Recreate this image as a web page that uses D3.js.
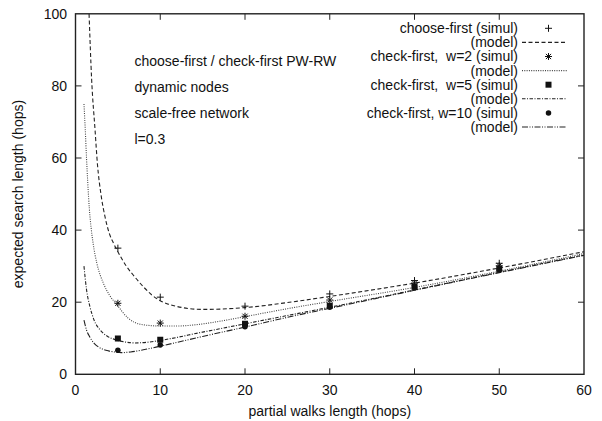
<!DOCTYPE html>
<html>
<head>
<meta charset="utf-8">
<script src="https://cdn.jsdelivr.net/npm/d3@7"></script>
<style>
  body { margin: 0; background: #fff; }
  text { font-family: "Liberation Sans", Arial, sans-serif; fill: #111; }
</style>
</head>
<body>
<div id="chart"></div>
<script>
// simulation points
const simX = [5, 10, 20, 30, 40, 50];
const simChoose = [35, 21.4, 18.9, 22.3, 26, 30.8];
const simW2 = [19.7, 14.2, 16.1, 20.6, 25.3, 30.1];
const simW5 = [9.9, 9.6, 14, 19, 24.3, 29.3];
const simW10 = [6.7, 8.1, 13.2, 18.6, 24, 29];

// model curves
const modelChooseX = [1.6, 1.9, 2.3, 2.6, 3.0, 3.5, 4.0, 4.5, 5, 6, 7, 8, 9, 10, 12, 15, 20, 25, 30, 40, 50, 60];
const modelChooseY = [100, 82, 68, 58, 50, 43.5, 39, 36.3, 34, 30, 27, 24.3, 22, 20.4, 18.8, 18.0, 18.5, 19.9, 21.6, 25.3, 29.5, 34.0];
const modelW2X = [1.0, 1.15, 1.3, 1.45, 1.63, 1.85, 2.1, 2.5, 3.3, 4, 4.85, 6.2, 7.8, 10, 12, 14, 17, 20, 25, 30, 40, 50, 60];
const modelW2Y = [75, 68, 60, 53, 46, 40.5, 36, 31, 25.2, 22, 19.4, 15.6, 13.8, 13.4, 13.4, 13.7, 14.7, 16, 18.2, 20.2, 24.1, 28.6, 33.5];
const modelW5X = [1.0, 1.3, 1.7, 2.2, 2.9, 3.8, 4.85, 6, 7, 8.5, 10, 15, 20, 25, 30, 40, 50, 60];
const modelW5Y = [30, 23.5, 18.8, 15, 12.3, 10.5, 9.5, 8.9, 8.7, 8.9, 9.4, 11.7, 14, 16.3, 18.6, 23.4, 28.3, 33.1];
const modelW10X = [1.0, 1.3, 1.7, 2.2, 2.7, 3.3, 3.9, 4.6, 5.4, 6.5, 8, 10, 15, 20, 25, 30, 40, 50, 60];
const modelW10Y = [15, 12.3, 10.3, 8.6, 7.6, 6.9, 6.5, 6.2, 6.0, 6.2, 6.8, 7.8, 10.5, 13.1, 15.8, 18.3, 23.3, 28.2, 33.0];

const xTicks = [0, 10, 20, 30, 40, 50, 60];
const yTicks = [0, 20, 40, 60, 80, 100];

const infoLines = ["choose-first / check-first PW-RW", "dynamic nodes", "scale-free network", "l=0.3"];
const legendLabels = ["choose-first (simul)", "(model)", "check-first,  w=2 (simul)", "(model)",
                      "check-first,  w=5 (simul)", "(model)", "check-first, w=10 (simul)", "(model)"];

const width = 602, height = 421;
const plotL = 75.5, plotR = 584, plotT = 13.8, plotB = 374.3;

const svg = d3.select("#chart").append("svg")
    .attr("width", width)
    .attr("height", height);

const x = d3.scaleLinear().domain([0, 60]).range([plotL, plotR]);
const y = d3.scaleLinear().domain([0, 100]).range([plotB, plotT]);

svg.append("clipPath").attr("id", "clip")
  .append("rect")
    .attr("x", plotL).attr("y", plotT)
    .attr("width", plotR - plotL).attr("height", plotB - plotT);

// line styles for each series
const styles = [
  { dash: "4,2.5", color: "#222", width: 1.1 },
  { dash: "1,1.3", color: "#444", width: 1.1 },
  { dash: "3.5,1.5,1,1.5", color: "#222", width: 1.1 },
  { dash: "6,1.5,1,1.5,1,1.5", color: "#222", width: 1.1 }
];

const models = [
  d3.zip(modelChooseX, modelChooseY),
  d3.zip(modelW2X, modelW2Y),
  d3.zip(modelW5X, modelW5Y),
  d3.zip(modelW10X, modelW10Y)
];

const line = d3.line()
    .x(d => x(d[0]))
    .y(d => y(d[1]))
    .curve(d3.curveMonotoneX);

const g = svg.append("g").attr("clip-path", "url(#clip)");

models.forEach((m, i) => {
  g.append("path")
    .attr("d", line(m))
    .attr("fill", "none")
    .attr("stroke", styles[i].color)
    .attr("stroke-width", styles[i].width)
    .attr("stroke-dasharray", styles[i].dash);
});

// markers
const plusPath = "M-3.5,0H3.5M0,-3.5V3.5";
const starPath = "M-3.5,0H3.5M0,-3.5V3.5M-2.6,-2.6L2.6,2.6M-2.6,2.6L2.6,-2.6";
const squarePath = d3.symbol(d3.symbolSquare, 36)();
const circlePath = d3.symbol(d3.symbolCircle, 24)();

function drawMarker(sel, type) {
  if (type === 0) sel.attr("d", plusPath).attr("fill", "none").attr("stroke", "#111").attr("stroke-width", 1);
  if (type === 1) sel.attr("d", starPath).attr("fill", "none").attr("stroke", "#111").attr("stroke-width", 1);
  if (type === 2) sel.attr("d", squarePath).attr("fill", "#111");
  if (type === 3) sel.attr("d", circlePath).attr("fill", "#111");
}

[simChoose, simW2, simW5, simW10].forEach((vals, i) => {
  g.selectAll(null)
    .data(d3.zip(simX, vals))
    .enter().append("path")
      .attr("transform", d => `translate(${x(d[0])},${y(d[1])})`)
      .call(drawMarker, i);
});

// frame and inward ticks
const axisColor = "#222";
svg.append("rect")
    .attr("x", plotL).attr("y", plotT)
    .attr("width", plotR - plotL).attr("height", plotB - plotT)
    .attr("fill", "none").attr("stroke", axisColor).attr("stroke-width", 1.4);

const tickLen = 6;
xTicks.slice(1, -1).forEach(t => {
  svg.append("line").attr("x1", x(t)).attr("x2", x(t)).attr("y1", plotB).attr("y2", plotB - tickLen)
    .attr("stroke", axisColor).attr("stroke-width", 1);
  svg.append("line").attr("x1", x(t)).attr("x2", x(t)).attr("y1", plotT).attr("y2", plotT + tickLen)
    .attr("stroke", axisColor).attr("stroke-width", 1);
});
yTicks.slice(1, -1).forEach(t => {
  svg.append("line").attr("x1", plotL).attr("x2", plotL + tickLen).attr("y1", y(t)).attr("y2", y(t))
    .attr("stroke", axisColor).attr("stroke-width", 1);
  svg.append("line").attr("x1", plotR).attr("x2", plotR - tickLen).attr("y1", y(t)).attr("y2", y(t))
    .attr("stroke", axisColor).attr("stroke-width", 1);
});

// tick labels
svg.selectAll(".xl").data(xTicks).enter().append("text")
    .attr("x", d => x(d)).attr("y", 395)
    .attr("text-anchor", "middle").attr("font-size", 14)
    .text(d => d);
svg.selectAll(".yl").data(yTicks).enter().append("text")
    .attr("x", 67).attr("y", d => y(d)).attr("dy", "0.35em")
    .attr("text-anchor", "end").attr("font-size", 14)
    .text(d => d);

// axis titles
svg.append("text")
    .attr("x", (plotL + plotR) / 2).attr("y", 416)
    .attr("text-anchor", "middle").attr("font-size", 14)
    .text("partial walks length (hops)");
svg.append("text")
    .attr("transform", `translate(23,${(plotT + plotB) / 2}) rotate(-90)`)
    .attr("text-anchor", "middle").attr("font-size", 14)
    .text("expected search length (hops)");

// annotation block
infoLines.forEach((s, i) => {
  svg.append("text")
    .attr("x", 134.5).attr("y", 61 + i * 26.1).attr("dy", "0.35em")
    .attr("font-size", 14)
    .text(s);
});

// legend
legendLabels.forEach((s, i) => {
  const ly = 28.3 + i * 14.1;
  svg.append("text")
    .attr("x", 518).attr("y", ly).attr("dy", "0.35em")
    .attr("text-anchor", "end").attr("font-size", 14)
    .style("white-space", "pre")
    .text(s);
  const k = Math.floor(i / 2);
  if (i % 2 === 0) {
    svg.append("path")
      .attr("transform", `translate(548.5,${ly})`)
      .call(drawMarker, k);
  } else {
    svg.append("line")
      .attr("x1", 522).attr("x2", 567).attr("y1", ly).attr("y2", ly)
      .attr("stroke", styles[k].color)
      .attr("stroke-width", styles[k].width)
      .attr("stroke-dasharray", styles[k].dash);
  }
});
</script>
</body>
</html>
